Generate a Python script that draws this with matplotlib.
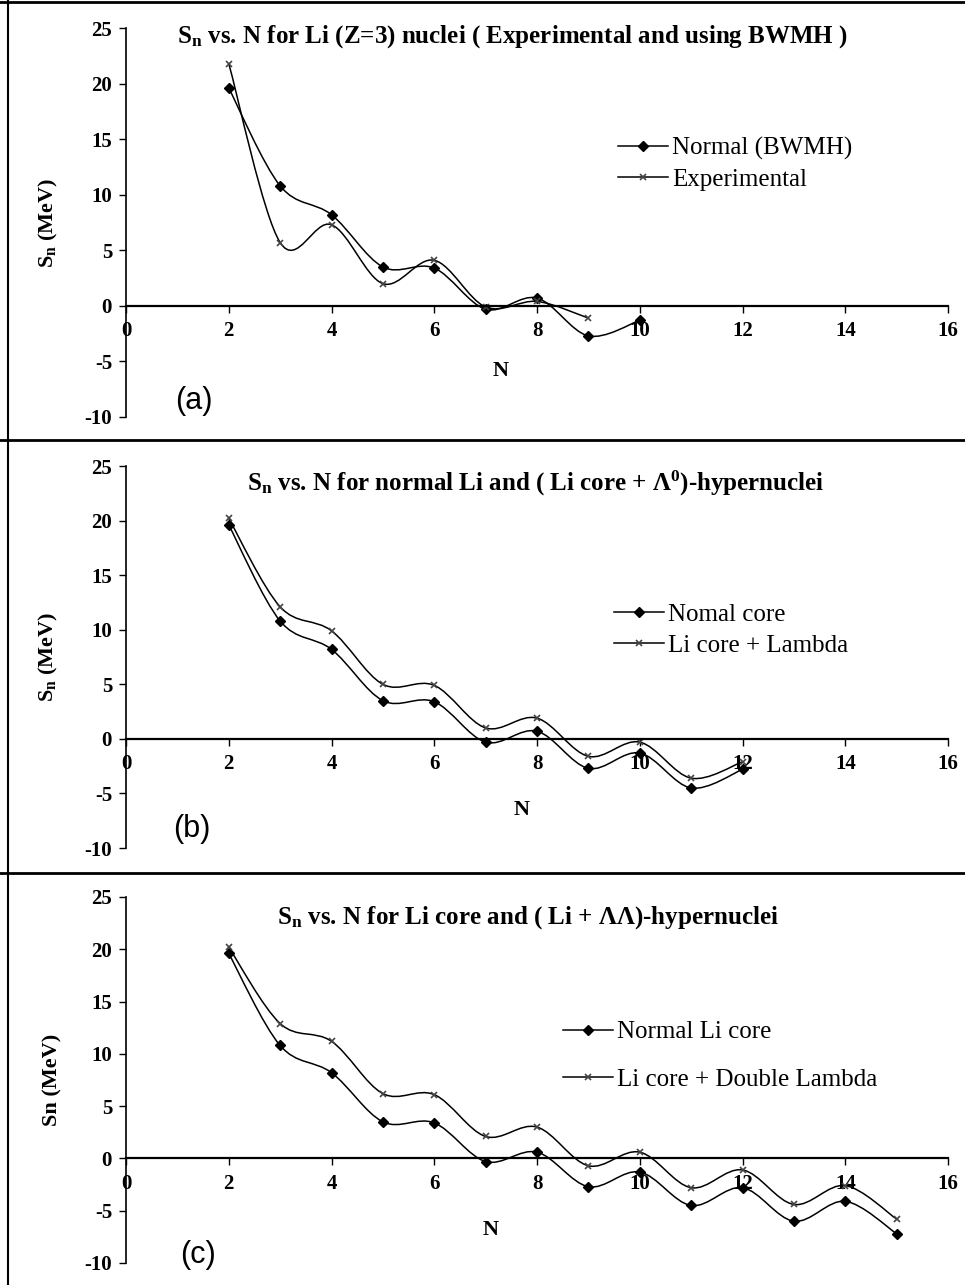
import numpy as np
import matplotlib.pyplot as plt
from matplotlib.path import Path
from matplotlib.patches import PathPatch
from matplotlib.lines import Line2D

plt.rcParams["font.family"] = ["Liberation Serif", "DejaVu Serif"]
plt.rcParams["font.weight"] = "bold"
plt.rcParams["mathtext.default"] = "regular"
plt.rcParams["axes.unicode_minus"] = False

# panel (a)
n_a = [2, 3, 4, 5, 6, 7, 8, 9, 10]
normal_a = [19.6, 10.8, 8.2, 3.5, 3.4, -0.3, 0.7, -2.7, -1.3]
n_exp = [2, 3, 4, 5, 6, 7, 8, 9]
exp_a = [21.8, 5.7, 7.3, 2.0, 4.1, -0.1, 0.4, -1.1]

# panel (b)
n_b = [2, 3, 4, 5, 6, 7, 8, 9, 10, 11, 12]
normal_b = [19.6, 10.8, 8.2, 3.5, 3.4, -0.3, 0.7, -2.7, -1.3, -4.5, -2.8]
lambda_b = [20.2, 12.1, 9.9, 5.0, 4.9, 1.0, 1.9, -1.6, -0.3, -3.6, -2.1]

# panel (c)
n_c = [2, 3, 4, 5, 6, 7, 8, 9, 10, 11, 12, 13, 14, 15]
normal_c = [19.6, 10.8, 8.2, 3.5, 3.4, -0.3, 0.6, -2.7, -1.3, -4.5, -2.8, -6.0, -4.1, -7.2]
double_c = [20.2, 12.9, 11.2, 6.2, 6.1, 2.1, 3.0, -0.7, 0.6, -2.8, -1.1, -4.4, -2.6, -5.8]

TICK_FS = 15
TITLE_FS = 18
LEG_FS = 18
LAB_FS = 16


def smooth_path(x, y):
    # Excel-style smoothed line (Catmull-Rom as cubic Bezier)
    pts = np.column_stack([x, y]).astype(float)
    verts = [pts[0]]
    codes = [Path.MOVETO]
    for i in range(len(pts) - 1):
        p0 = pts[i - 1] if i > 0 else pts[i]
        p1 = pts[i]
        p2 = pts[i + 1]
        p3 = pts[i + 2] if i + 2 < len(pts) else pts[i + 1]
        verts += [p1 + (p2 - p0) / 6, p2 - (p3 - p1) / 6, p2]
        codes += [Path.CURVE4] * 3
    return Path(verts, codes)


def draw_series(ax, x, y, marker):
    ax.add_patch(PathPatch(smooth_path(x, y), fill=False, lw=1.1, ec="black"))
    if marker == "D":
        ax.plot(x, y, ls="none", marker="D", ms=5.5, color="black")
    else:
        ax.plot(x, y, ls="none", marker="x", ms=5, mew=1.2, color="#444444")


def setup(ax):
    ax.set_xlim(0, 16)
    ax.set_ylim(-10, 25)
    ax.spines["top"].set_visible(False)
    ax.spines["right"].set_visible(False)
    ax.spines["bottom"].set_position(("data", 0))
    ax.spines["bottom"].set_linewidth(1.6)
    ax.spines["left"].set_linewidth(1.2)
    ax.set_xticks(range(0, 17, 2))
    ax.set_yticks(range(-10, 26, 5))
    ax.tick_params(direction="out", length=5, width=1, labelsize=TICK_FS)
    ax.tick_params(axis="x", pad=6)
    ax.tick_params(axis="y", pad=5)
    ax.patch.set_alpha(0)


def handles(lbl1, lbl2):
    h1 = Line2D([], [], color="black", lw=1.1, marker="D", ms=5.5)
    h2 = Line2D([], [], color="black", lw=1.1, marker="x", ms=5, mew=1.2, mec="#444444")
    return [h1, h2], [lbl1, lbl2]


def add_legend(ax, lbl1, lbl2, x, y, spacing):
    h, l = handles(lbl1, lbl2)
    ax.legend(h, l, loc="center left", bbox_to_anchor=(x, y), frameon=False,
              handlelength=2.0, handletextpad=0.15, labelspacing=spacing,
              borderpad=0, borderaxespad=0, prop={"weight": "normal", "size": LEG_FS})


fig = plt.figure(figsize=(9.65, 12.85), dpi=100)
W, H = 965.0, 1285.0


def add_axes(top, bottom):
    return fig.add_axes([126 / W, 1 - bottom / H, 822 / W, (bottom - top) / H])


ax_a = add_axes(28, 417)
ax_b = add_axes(466, 848)
ax_c = add_axes(897, 1263)

# (a)
setup(ax_a)
draw_series(ax_a, n_a, normal_a, "D")
draw_series(ax_a, n_exp, exp_a, "x")
ax_a.text(0.47, 0.977, "S$_{n}$ vs. N for Li (Z=3) nuclei ( Experimental and using BWMH )",
          transform=ax_a.transAxes, ha="center", va="center", fontsize=TITLE_FS)
ax_a.text(-0.094, 0.5, "S$_{n}$ (MeV)", transform=ax_a.transAxes, rotation=90,
          ha="center", va="center", fontsize=LAB_FS)
ax_a.text(7.3, -5.85, "N", ha="center", va="center", fontsize=LAB_FS)
ax_a.text(1.32, -8.6, "(a)", ha="center", va="center", fontsize=22,
          family="Liberation Sans", weight="normal")
add_legend(ax_a, "Normal (BWMH)", "Experimental", 0.599, 0.65, 0.32)

# (b)
setup(ax_b)
draw_series(ax_b, n_b, normal_b, "D")
draw_series(ax_b, n_b, lambda_b, "x")
ax_b.text(0.498, 0.955, "S$_{n}$ vs. N for normal Li and ( Li core + Λ$^{0}$)-hypernuclei",
          transform=ax_b.transAxes, ha="center", va="center", fontsize=TITLE_FS)
ax_b.text(-0.094, 0.5, "S$_{n}$ (MeV)", transform=ax_b.transAxes, rotation=90,
          ha="center", va="center", fontsize=LAB_FS)
ax_b.text(7.7, -6.5, "N", ha="center", va="center", fontsize=LAB_FS)
ax_b.text(1.28, -8.3, "(b)", ha="center", va="center", fontsize=22,
          family="Liberation Sans", weight="normal")
add_legend(ax_b, "Nomal core", "Li core + Lambda", 0.594, 0.571, 0.35)

# (c)
setup(ax_c)
draw_series(ax_c, n_c, normal_c, "D")
draw_series(ax_c, n_c, double_c, "x")
ax_c.text(0.489, 0.943, "S$_{n}$ vs. N for Li core and ( Li + ΛΛ)-hypernuclei",
          transform=ax_c.transAxes, ha="center", va="center", fontsize=TITLE_FS)
ax_c.text(-0.090, 0.5, "Sn (MeV)", transform=ax_c.transAxes, rotation=90,
          ha="center", va="center", fontsize=LAB_FS)
ax_c.text(7.1, -6.8, "N", ha="center", va="center", fontsize=LAB_FS)
ax_c.text(1.4, -9.2, "(c)", ha="center", va="center", fontsize=22,
          family="Liberation Sans", weight="normal")
add_legend(ax_c, "Normal Li core", "Li core + Double Lambda", 0.532, 0.566, 1.0)

# panel frames
for yy in [2, 440, 873]:
    fig.add_artist(Line2D([0, 1], [1 - yy / H, 1 - yy / H], color="black", lw=2))
fig.add_artist(Line2D([8 / W, 8 / W], [0, 1], color="black", lw=1.5))

fig.savefig("out.png", dpi=100)
